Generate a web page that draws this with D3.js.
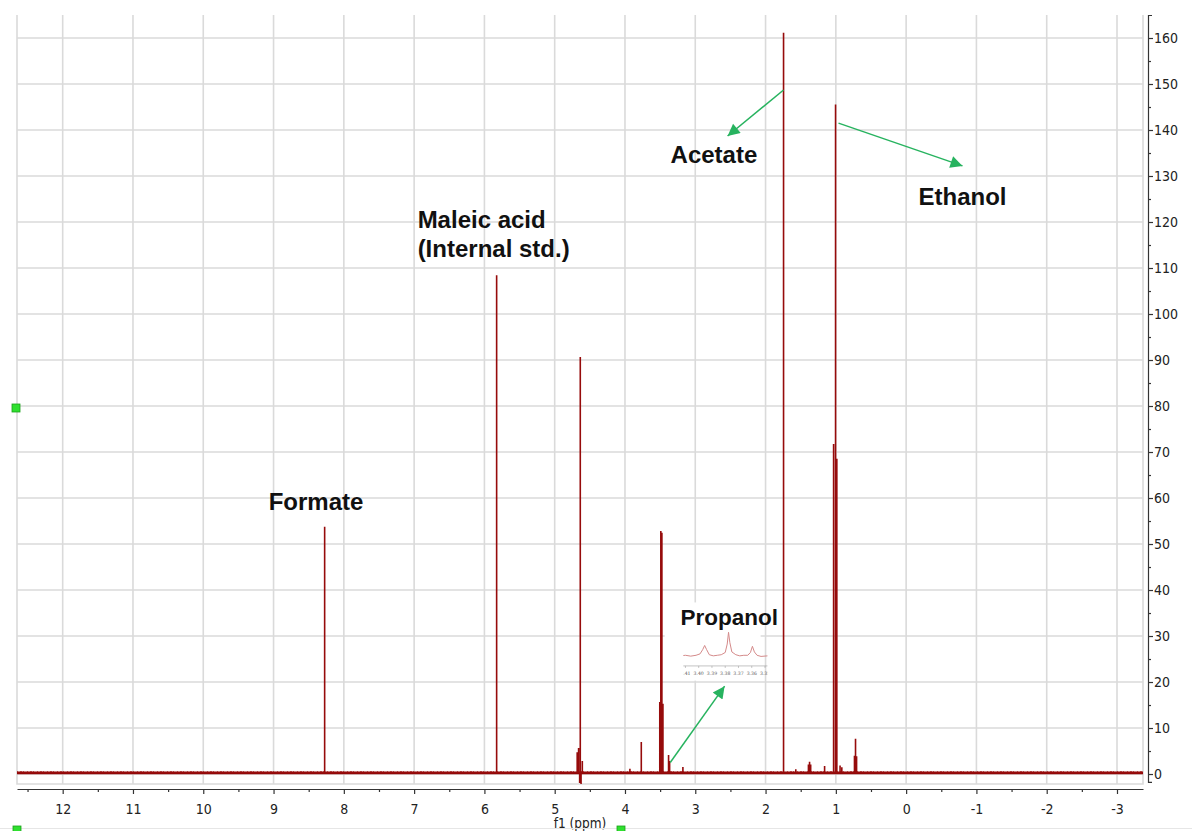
<!DOCTYPE html>
<html>
<head>
<meta charset="utf-8">
<script src="https://cdn.jsdelivr.net/npm/d3@7"></script>
<style>
    body { margin: 0; background: #fff; }
    svg text { font-family: "DejaVu Sans Condensed", "DejaVu Sans", sans-serif; }
    .axis text { font-size: 14px; fill: #222; }
    .axis path, .axis line { stroke: #333; stroke-width: 1.2; }
    svg text.lbl { font-family: "Liberation Sans", Arial, sans-serif; font-weight: bold; font-size: 24px; fill: #111; }
    svg text.ins { font-family: "DejaVu Serif", "Liberation Serif", serif; font-size: 4.6px; fill: #555; }
</style>
</head>
<body>
<script>
// 1H NMR spectrum, peaks (ppm, intensity)
const peakPpm    = [8.273, 5.826, 4.68, 4.66, 4.645, 4.636, 4.625, 4.607, 3.93, 3.768,
                    3.505, 3.49, 3.475, 3.46, 3.38, 3.365, 3.176, 1.744, 1.57,
                    1.39, 1.374, 1.358, 1.16, 1.032, 1.004, 0.986, 0.94, 0.915,
                    0.735, 0.72, 0.705];
const peakHeight = [53.5, 108.2, 4.5, 5.4, -2.2, 90.4, -2.4, 2.6, 0.9, 6.7,
                    15.4, 52.6, 52.2, 15.0, 3.9, 2.6, 1.3, 160.9, 0.8,
                    1.8, 2.4, 1.8, 1.5, 71.5, 145.3, 68.3, 1.6, 1.2,
                    3.7, 7.4, 3.6];
const baseLevel = 0.25;

// axes
const xDomain = [12.65, -3.37];
const yDomain = [-2.17, 165];
const xTicks = [12, 11, 10, 9, 8, 7, 6, 5, 4, 3, 2, 1, 0, -1, -2, -3];
const xMinorTicks = [12.5, 11.5, 10.5, 9.5, 8.5, 7.5, 6.5, 5.5, 4.5, 3.5, 2.5, 1.5, 0.5, -0.5, -1.5, -2.5];
const yTicks = [0, 10, 20, 30, 40, 50, 60, 70, 80, 90, 100, 110, 120, 130, 140, 150, 160];
const yMinorTicks = [5, 15, 25, 35, 45, 55, 65, 75, 85, 95, 105, 115, 125, 135, 145, 155];

// annotations (ppm, intensity)
const labelText = ["Acetate", "Ethanol", "Maleic acid", "(Internal std.)", "Formate", "Propanol"];
const labelPpm  = [3.351, -0.176, 6.95, 6.95, 9.07, 3.21];
const labelInt  = [132.8, 123.7, 118.7, 112.4, 57.4, 32.4];
const arrowFrom = [[1.744, 148.7], [0.962, 141.5], [3.356, 2.5]];
const arrowTo   = [[2.54, 138.7], [-0.802, 132.2], [2.583, 19.1]];

// propanol zoom inset trace
const insetPpm = [3.414, 3.41, 3.406, 3.402, 3.399, 3.397, 3.3955, 3.394, 3.392, 3.389, 3.386, 3.383,
                  3.38, 3.3785, 3.3775, 3.3765, 3.375, 3.372, 3.369, 3.366, 3.363, 3.361, 3.3595,
                  3.358, 3.356, 3.353, 3.348];
const insetInt = [0.08, 0.1, 0.07, 0.1, 0.15, 0.3, 0.45, 0.3, 0.12, 0.08, 0.1, 0.12,
                  0.2, 0.5, 0.92, 0.55, 0.22, 0.12, 0.08, 0.1, 0.1, 0.2, 0.42,
                  0.22, 0.1, 0.06, 0.08];
const insetTicks = ["3.41", "3.40", "3.39", "3.38", "3.37", "3.36", "3.35"];

const W = 1192, H = 831;
const svg = d3.select('body').append('svg').attr('width', W).attr('height', H);

const x = d3.scaleLinear().domain(xDomain).range([17, 1143]);
const y = d3.scaleLinear().domain(yDomain).range([784, 15]);

// grid
const grid = svg.append('g').attr('stroke', '#dadada').attr('stroke-width', 1.6);
grid.selectAll('line.v').data(xTicks).join('line')
    .attr('x1', d => x(d)).attr('x2', d => x(d)).attr('y1', y(yDomain[1])).attr('y2', y(yDomain[0]));
grid.selectAll('line.h').data(yTicks).join('line').attr('class', 'h')
    .attr('x1', x(xDomain[0])).attr('x2', x(xDomain[1])).attr('y1', d => y(d)).attr('y2', d => y(d));
// frame (left, right, bottom)
grid.append('path')
    .attr('fill', 'none')
    .attr('d', `M${x(xDomain[0])},${y(yDomain[1])}V${y(yDomain[0])}H${x(xDomain[1])}V${y(yDomain[1])}`);

// spectrum
const pts = [[xDomain[0], baseLevel]];
d3.range(peakPpm.length)
    .sort((a, b) => peakPpm[b] - peakPpm[a])
    .forEach(i => {
        pts.push([peakPpm[i], baseLevel], [peakPpm[i], baseLevel + peakHeight[i]], [peakPpm[i], baseLevel]);
    });
pts.push([xDomain[1], baseLevel]);

const line = d3.line().x(d => x(d[0])).y(d => y(d[1]));
svg.append('line')
    .attr('x1', x(xDomain[0])).attr('x2', x(xDomain[1]))
    .attr('y1', y(baseLevel)).attr('y2', y(baseLevel))
    .attr('stroke', '#8b0000').attr('stroke-width', 2.6);
svg.append('line')
    .attr('x1', x(xDomain[0])).attr('x2', x(xDomain[1]))
    .attr('y1', y(baseLevel) - 1).attr('y2', y(baseLevel) - 1)
    .attr('stroke', '#a01818').attr('stroke-width', 1).attr('stroke-dasharray', '1,2,2,1,1,3');
svg.append('path')
    .datum(pts)
    .attr('fill', 'none')
    .attr('stroke', '#960b0b')
    .attr('stroke-width', 1.6)
    .attr('d', line);

// inset (propanol triplet)
const box = svg.append('g');
box.append('rect')
    .attr('x', x(3.435)).attr('y', y(37.3))
    .attr('width', x(2.07) - x(3.435)).attr('height', y(20.3) - y(37.3))
    .attr('fill', '#fff');
const ix = d3.scaleLinear().domain([3.4136, 3.348]).range([x(3.208), x(1.97)]);
const iy = d3.scaleLinear().domain([0, 1]).range([y(25.2), y(31.3)]);
box.append('clipPath').attr('id', 'insclip')
    .append('rect').attr('x', x(3.17)).attr('y', y(33)).attr('width', x(1.97) - x(3.17)).attr('height', y(20.5) - y(33));
const ins = box.append('g').attr('clip-path', 'url(#insclip)');
ins.append('line')
    .attr('x1', ix.range()[0]).attr('x2', ix.range()[1])
    .attr('y1', y(23.5)).attr('y2', y(23.5))
    .attr('stroke', '#aaa').attr('stroke-width', 0.7);
ins.selectAll('line.t').data(insetTicks).join('line').attr('class', 't')
    .attr('x1', d => ix(+d)).attr('x2', d => ix(+d))
    .attr('y1', y(23.5)).attr('y2', y(23.5) + 2)
    .attr('stroke', '#aaa').attr('stroke-width', 0.7);
ins.selectAll('text').data(insetTicks).join('text').attr('class', 'ins')
    .attr('x', d => ix(+d)).attr('y', y(21.6))
    .attr('text-anchor', 'middle')
    .text(d => d);
ins.append('path')
    .datum(d3.zip(insetPpm, insetInt))
    .attr('fill', 'none')
    .attr('stroke', '#d48a8a')
    .attr('stroke-width', 1)
    .attr('d', d3.line().x(d => ix(d[0])).y(d => iy(d[1])));

// labels
svg.selectAll('text.lbl').data(labelText).join('text').attr('class', 'lbl')
    .attr('x', (d, i) => x(labelPpm[i]))
    .attr('y', (d, i) => y(labelInt[i]))
    .style('font-size', d => d === 'Propanol' ? '22.5px' : null)
    .text(d => d);

// arrows
svg.append('defs').append('marker')
    .attr('id', 'arr')
    .attr('viewBox', '0 0 10 10')
    .attr('refX', 10).attr('refY', 5)
    .attr('markerUnits', 'userSpaceOnUse')
    .attr('markerWidth', 15).attr('markerHeight', 12)
    .attr('orient', 'auto')
    .append('path').attr('d', 'M0,0L10,5L0,10z').attr('fill', '#27b35f');
svg.selectAll('line.arrow').data(arrowFrom).join('line').attr('class', 'arrow')
    .attr('x1', d => x(d[0])).attr('y1', d => y(d[1]))
    .attr('x2', (d, i) => x(arrowTo[i][0])).attr('y2', (d, i) => y(arrowTo[i][1]))
    .attr('stroke', '#27b35f').attr('stroke-width', 1.5)
    .attr('marker-end', 'url(#arr)');

// bottom axis
const gx = svg.append('g').attr('class', 'axis').attr('transform', 'translate(0,789)');
gx.call(d3.axisBottom(x).tickValues(xTicks).tickSize(5).tickSizeOuter(0).tickFormat(d => String(d)));
gx.selectAll('.tick text').attr('y', 15);
const gxm = svg.append('g').attr('class', 'axis').attr('transform', 'translate(0,789)');
gxm.call(d3.axisBottom(x).tickValues(xMinorTicks).tickSize(3).tickFormat(''));
gxm.select('.domain').remove();

svg.append('text')
    .attr('x', (x.range()[0] + x.range()[1]) / 2).attr('y', 828)
    .attr('text-anchor', 'middle')
    .style('font-size', '13.5px').attr('fill', '#222')
    .text('f1 (ppm)');

// right axis
const yAx = y.copy().domain([-1.7, 165]).range([y(-1.7), y(165)]);
const gy = svg.append('g').attr('class', 'axis').attr('transform', 'translate(1148,0)');
gy.call(d3.axisRight(yAx).tickValues(yTicks).tickSize(5).tickSizeOuter(4));
gy.selectAll('.tick text').attr('x', 6);
const gym = svg.append('g').attr('class', 'axis').attr('transform', 'translate(1148,0)');
gym.call(d3.axisRight(yAx).tickValues(yMinorTicks).tickSize(3).tickFormat(''));
gym.select('.domain').remove();

// window edge and selection handles
svg.append('line').attr('x1', 0).attr('x2', W).attr('y1', 828.5).attr('y2', 828.5)
    .attr('stroke', '#e6e6e6').attr('stroke-width', 1);
const handles = [[12, 404], [13, 826], [617, 826]];
svg.selectAll('rect.hd').data(handles).join('rect').attr('class', 'hd')
    .attr('x', d => d[0]).attr('y', d => d[1]).attr('width', 8).attr('height', 8)
    .attr('fill', '#2fe02f').attr('stroke', '#19a019').attr('stroke-width', 0.8);
</script>
</body>
</html>
